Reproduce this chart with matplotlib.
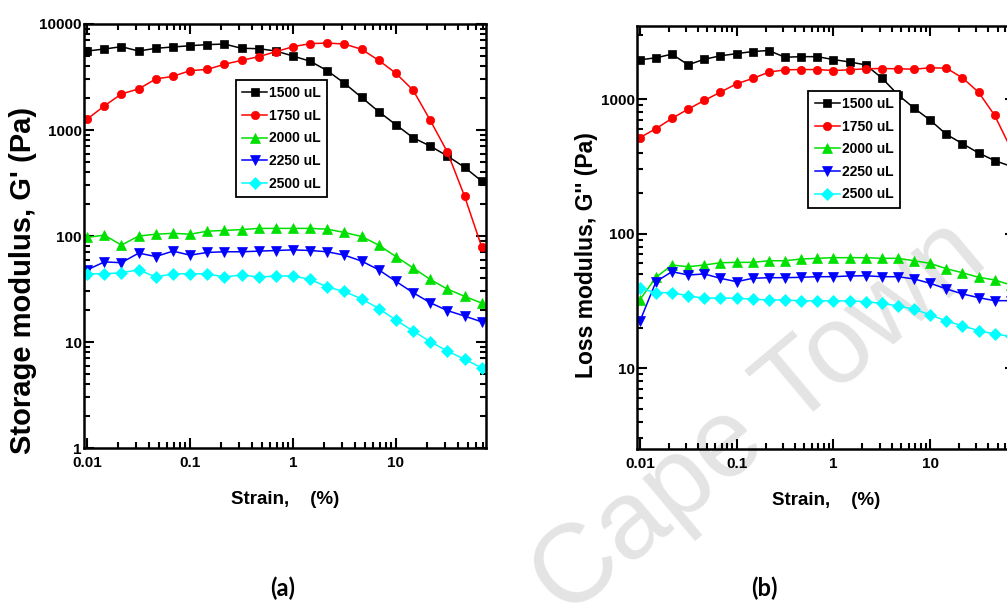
import matplotlib
matplotlib.use('Agg')
import matplotlib.pyplot as plt
import matplotlib.ticker as ticker

# strain sweep, 6 points per decade
strain = [0.01, 0.0147, 0.0215, 0.0316, 0.0464, 0.0681, 0.1, 0.147, 0.215, 0.316,
          0.464, 0.681, 1, 1.47, 2.15, 3.16, 4.64, 6.81, 10, 14.7, 21.5, 31.6, 46.4, 68.1]

volumes = ['1500 uL', '1750 uL', '2000 uL', '2250 uL', '2500 uL']
colors = ['black', 'red', '#00e000', 'blue', 'cyan']
markers = ['s', 'o', '^', 'v', 'D']

# storage modulus G' (Pa)
storage_1500 = [5560, 5810, 6110, 5560, 5900, 6070, 6240, 6390, 6470, 5900, 5850, 5560,
                4990, 4450, 3630, 2760, 2030, 1490, 1120, 845, 706, 569, 445, 330]
storage_1750 = [1270, 1690, 2190, 2440, 3030, 3210, 3630, 3730, 4170, 4540, 4920, 5480,
                6110, 6530, 6610, 6470, 5770, 4540, 3430, 2370, 1240, 620, 238, 79]
storage_2000 = [97, 102, 82, 100, 104, 106, 104, 111, 113, 115, 118, 118,
                118, 118, 116, 108, 99, 82, 64, 50, 39, 31.6, 27, 23.3]
storage_2250 = [48, 57, 56, 69, 64, 72, 66, 70, 71, 71, 72, 73,
                74, 73, 71, 66, 58, 48, 37.3, 29.2, 23.5, 19.8, 17.6, 15.5]
storage_2500 = [44, 44, 45, 48, 41, 44, 44, 44, 41, 43, 41, 42,
                42, 39, 33, 30, 25.5, 20.7, 16.1, 12.7, 10.1, 8.2, 6.9, 5.7]

# loss modulus G'' (Pa)
loss_1500 = [1960, 2030, 2160, 1800, 1980, 2100, 2180, 2260, 2300, 2050, 2070, 2070,
             1970, 1890, 1800, 1440, 1080, 858, 698, 547, 467, 398, 349, 317]
loss_1750 = [517, 603, 719, 843, 978, 1127, 1301, 1425, 1587, 1652, 1660, 1660,
             1633, 1652, 1682, 1690, 1682, 1670, 1710, 1700, 1442, 1127, 757, 430]
loss_2000 = [32.1, 47.3, 58.4, 56.7, 58.4, 60.7, 61.1, 61.1, 62.8, 62.8, 64.7, 65.5,
             66.2, 66.2, 66.2, 65.5, 65.5, 62.8, 60.1, 54.8, 51.2, 47.3, 45.2, 41.5]
loss_2250 = [22.2, 43.9, 52.1, 49.2, 50.1, 46.5, 43.9, 46.5, 47.0, 47.0, 47.3, 47.8,
             47.8, 48.4, 48.6, 47.8, 47.8, 46.0, 42.7, 38.8, 35.6, 33.4, 31.7, 31.7]
loss_2500 = [39.2, 36.4, 36.4, 34.4, 33.1, 33.1, 33.1, 32.5, 32.1, 32.1, 31.6, 31.6,
             31.6, 31.6, 31.2, 30.3, 29.0, 27.4, 24.9, 22.4, 20.6, 19.0, 17.9, 17.2]

storage = [storage_1500, storage_1750, storage_2000, storage_2250, storage_2500]
loss = [loss_1500, loss_1750, loss_2000, loss_2250, loss_2500]

plt.rcParams['font.family'] = ['Liberation Sans', 'DejaVu Sans']
plt.rcParams['font.weight'] = 'bold'


def plot_panel(ax, series, ylim, ylabel, ylabel_size, ylabel_pos, legend_anchor):
    for vals, lab, c, m in zip(series, volumes, colors, markers):
        ms = 6.5 if m in ('^', 'v') else 6
        ax.plot(strain, vals, '-', color=c, marker=m, markersize=ms, linewidth=1.1,
                markeredgewidth=0.5, label=lab)
    ax.set_xscale('log')
    ax.set_yscale('log')
    ax.set_xlim(0.0093, 75)
    ax.set_ylim(*ylim)
    ax.set_facecolor('none')

    fmt = ticker.FuncFormatter(lambda v, pos: '%g' % v)
    ax.xaxis.set_major_locator(ticker.LogLocator(base=10, numticks=10))
    ax.xaxis.set_major_formatter(fmt)
    ax.yaxis.set_major_formatter(fmt)
    ax.xaxis.set_minor_locator(ticker.LogLocator(base=10, subs=range(2, 10), numticks=20))
    ax.yaxis.set_minor_locator(ticker.LogLocator(base=10, subs=range(2, 10), numticks=20))
    ax.xaxis.set_minor_formatter(ticker.NullFormatter())
    ax.yaxis.set_minor_formatter(ticker.NullFormatter())

    ax.tick_params(which='both', direction='in', top=True, right=True, width=1.5)
    ax.tick_params(which='major', length=7, labelsize=11)
    ax.tick_params(which='minor', length=4)
    ax.tick_params(axis='y', pad=1.5)
    ax.tick_params(axis='x', pad=6)
    for s in ax.spines.values():
        s.set_linewidth(1.8)

    ax.set_xlabel('Strain,    (%)', fontsize=13.5, fontweight='bold', labelpad=15)
    ax.set_ylabel(ylabel, fontsize=ylabel_size, fontweight='bold')
    ax.yaxis.set_label_coords(*ylabel_pos)

    leg = ax.legend(loc='upper left', bbox_to_anchor=legend_anchor,
                    prop={'size': 10, 'weight': 'bold'},
                    fancybox=False, framealpha=1, edgecolor='black', handlelength=1.8,
                    labelspacing=0.62, handletextpad=0.15, borderpad=0.45,
                    borderaxespad=0)
    leg.get_frame().set_linewidth(1.3)


fig = plt.figure(figsize=(10.07, 6.03), dpi=100)

fig.text(0.754, 0.305, 'Cape Town', rotation=40, fontsize=80, color='#e4e4e4',
         weight='normal', ha='center', va='center', zorder=-1)

ax1 = fig.add_axes([0.0834, 0.2570, 0.3992, 0.7032])
ax2 = fig.add_axes([0.6323, 0.2554, 0.3755, 0.7015])

plot_panel(ax1, storage, (1, 10000), "Storage modulus, G' (Pa)", 21,
           (-0.117, 0.396), (0.378, 0.868))
plot_panel(ax2, loss, (2.5, 3500), "Loss modulus, G'' (Pa)", 16.5,
           (-0.102, 0.459), (0.454, 0.847))

fig.text(0.281, 0.0116, '(a)', fontsize=17, family=['Lato', 'DejaVu Sans'], weight='bold',
         ha='center', va='baseline')
fig.text(0.759, 0.0116, '(b)', fontsize=17, family=['Lato', 'DejaVu Sans'], weight='bold',
         ha='center', va='baseline')

fig.savefig('out.png', dpi=100)
